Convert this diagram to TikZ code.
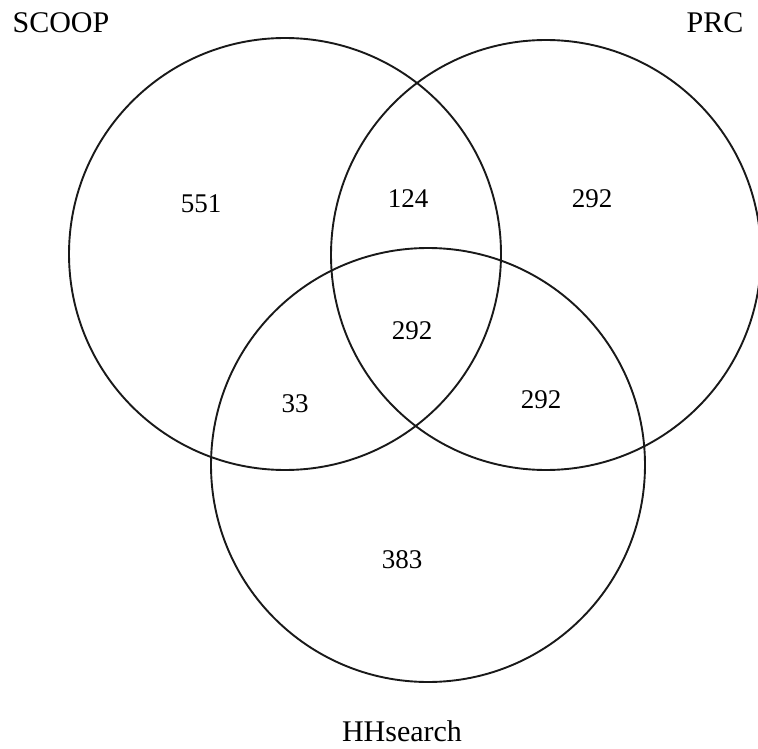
\documentclass[tikz,border=0pt]{standalone}
\usepackage{fontspec}
\setmainfont{Liberation Serif}
\begin{document}
\begin{tikzpicture}[x=1pt,y=-1pt,
  setcircle/.style={circle,draw=black!90,line width=1.9pt,inner sep=0pt,minimum size=#1},
  lbl/.style={inner sep=0pt,anchor=center,font=\fontsize{27}{32}\selectfont},
  setname/.style={inner sep=0pt,anchor=center,font=\fontsize{30}{36}\selectfont}]
\useasboundingbox (0,0) rectangle (758,749);
\clip (0,0) rectangle (758,749);
\node[setcircle=432pt] (scoop) at (285,254) {};
\node[setcircle=430pt] (prc) at (546,255) {};
\node[setcircle=434pt] (hh) at (428,465) {};
\node[setname] (tscoop) at (61,23) {SCOOP};
\node[setname] (tprc) at (715,23) {PRC};
\node[setname] (thh) at (402,731) {HHsearch};
\node[lbl] (n551) at (201,204) {551};
\node[lbl] (n124) at (408,199) {124};
\node[lbl] (n292a) at (592,199) {292};
\node[lbl] (n292b) at (412,331) {292};
\node[lbl] (n292c) at (541,400) {292};
\node[lbl] (n33) at (295,404) {33};
\node[lbl] (n383) at (402,560) {383};
\end{tikzpicture}
\end{document}
